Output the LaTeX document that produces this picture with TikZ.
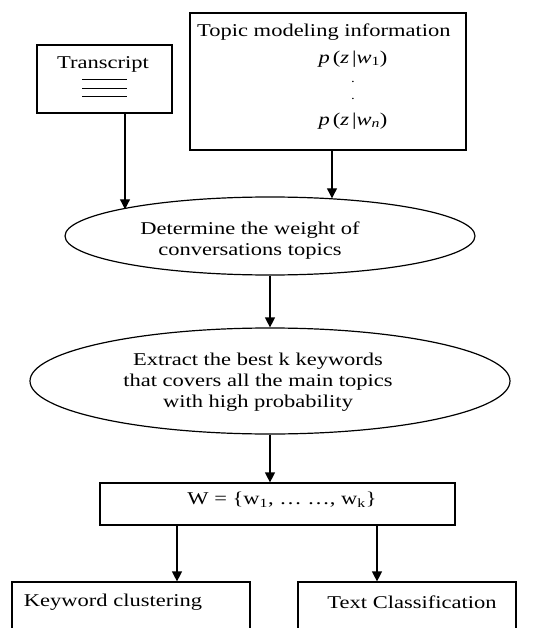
\documentclass[tikz,border=0pt]{standalone}
\usepackage{fontspec}
\setmainfont[FakeStretch=1.25]{Liberation Serif}
\usetikzlibrary{shapes.geometric,calc,arrows.meta}
\begin{document}
\begin{tikzpicture}[x=1pt,y=-1pt,
  font=\fontsize{18}{21}\selectfont,
  box/.style={draw, line width=1.2pt, rectangle, inner sep=0pt},
  oval/.style={draw, line width=1.2pt, ellipse, inner sep=0pt},
  arr/.style={line width=1.2pt, -{Triangle[length=10pt,width=10pt]}},
  lbl/.style={inner sep=0pt, align=center},
  dotlbl/.style={inner sep=0pt, font=\fontsize{12}{12}\selectfont}]
\useasboundingbox (0,0) rectangle (554,628);
\clip (0,0) rectangle (554,628);
% Transcript
\node[box, minimum width=135pt, minimum height=68pt] (trans) at (104.5,79) {};
\node[lbl] (transtxt) at (103,64) {Transcript};
\draw[line width=0.9pt] (82,79) -- (127,79) (82,88) -- (127,88) (82,96) -- (127,96);
% Topic modeling
\node[box, minimum width=276pt, minimum height=137pt] (topic) at (328,81.5) {};
\node[lbl, anchor=west] (topictxt) at (197,32) {Topic modeling information};
\node[lbl] (p1) at (353,59) {\textit{p}\,(\textit{z}\,|\textit{w}\textsubscript{1})};
\node[dotlbl] (d1) at (353,82) {.};
\node[dotlbl] (d2) at (353,99) {.};
\node[lbl] (pn) at (353,121) {\textit{p}\,(\textit{z}\,|\textit{w}\textsubscript{\textit{n}})};
% Ellipse 1
\node[oval, minimum width=410pt, minimum height=78pt] (e1) at (270,236) {};
\node[lbl] (e1t) at (250,241) {Determine the weight of\\conversations topics};
% Ellipse 2
\node[oval, minimum width=480pt, minimum height=106pt] (e2) at (270,381) {};
\node[lbl] (e2t) at (258,382) {Extract the best k keywords\\that covers all the main topics\\with high probability};
% W box
\node[box, minimum width=355pt, minimum height=42pt] (wbox) at (277.5,504) {};
\node[lbl] (wt) at (282,500) {W = \{w\textsubscript{1}, \dots\ \dots, w\textsubscript{k}\}};
% Bottom boxes
\node[box, minimum width=238pt, minimum height=68pt] (kc) at (131,616) {};
\node[lbl] (kct) at (113,602) {Keyword clustering};
\node[box, minimum width=218pt, minimum height=68pt] (tc) at (407,616) {};
\node[lbl] (tct) at (412,602) {Text Classification};
% Connectors
\draw[arr] ($(trans.south)+(20.5,0)$) -- ($(trans.south |- e1.170)+(20.5,0)$);
\draw[arr] ($(topic.south)+(4,0)$) -- ($(topic.south |- e1.31)+(4,0)$);
\draw[arr] (e1.south) -- (e2.north);
\draw[arr] (e2.south) -- (e2.south |- wbox.north);
\draw[arr] ($(wbox.south)+(-100.5,0)$) -- ($(kc.north)+(46,0)$);
\draw[arr] ($(wbox.south)+(99.5,0)$) -- ($(tc.north)+(-30,0)$);
\end{tikzpicture}
\end{document}
